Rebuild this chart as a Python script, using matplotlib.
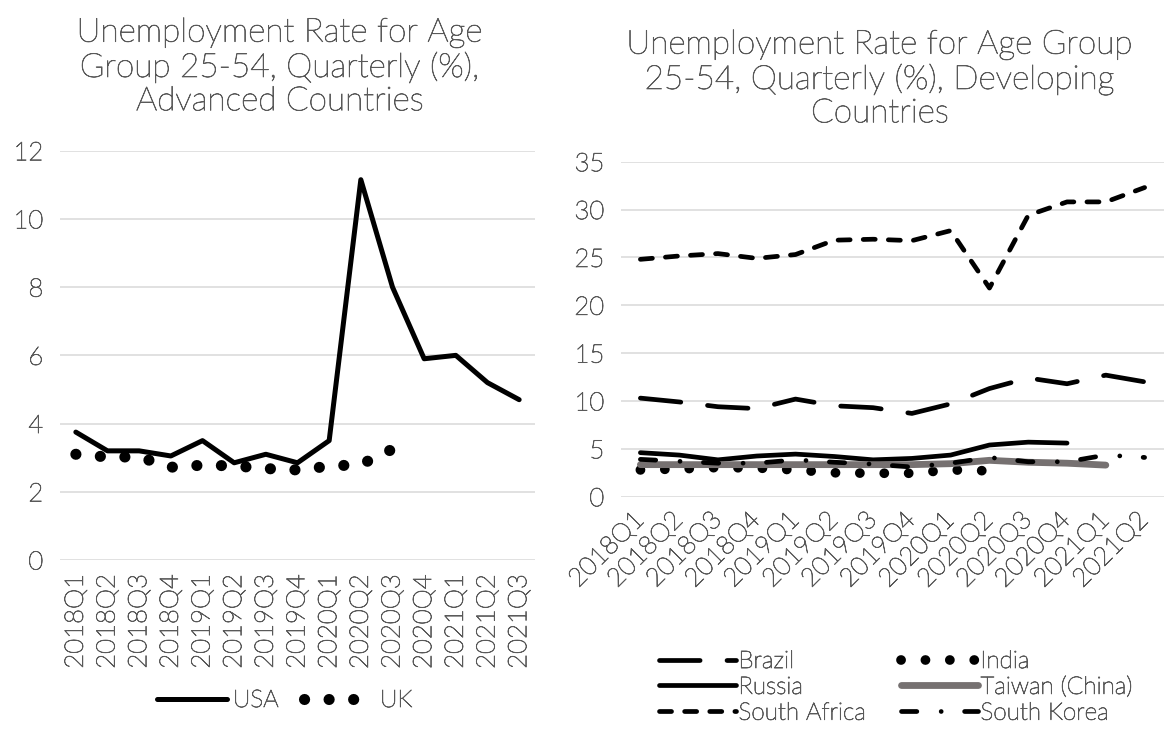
import matplotlib
matplotlib.use("Agg")
import matplotlib.pyplot as plt
import matplotlib.patheffects as pe

# ---- data -------------------------------------------------------------
quarters_adv = ["2018Q1", "2018Q2", "2018Q3", "2018Q4", "2019Q1", "2019Q2",
                "2019Q3", "2019Q4", "2020Q1", "2020Q2", "2020Q3", "2020Q4",
                "2021Q1", "2021Q2", "2021Q3"]
usa = [3.75, 3.2, 3.2, 3.05, 3.5, 2.85, 3.1, 2.85, 3.5, 11.15, 8.0, 5.9, 6.0, 5.2, 4.7]
uk = [3.1, 3.02, 3.02, 2.72, 2.78, 2.76, 2.68, 2.64, 2.75, 2.8, 3.25]

quarters_dev = ["2018Q1", "2018Q2", "2018Q3", "2018Q4", "2019Q1", "2019Q2",
                "2019Q3", "2019Q4", "2020Q1", "2020Q2", "2020Q3", "2020Q4",
                "2021Q1", "2021Q2"]
brazil = [10.3, 9.9, 9.4, 9.2, 10.2, 9.5, 9.3, 8.7, 9.7, 11.3, 12.4, 11.8, 12.7, 12.0]
india = [2.8, 2.9, 3.05, 3.0, 2.8, 2.5, 2.45, 2.45, 2.8, 2.7]
russia = [4.6, 4.35, 3.85, 4.25, 4.45, 4.2, 3.85, 4.0, 4.35, 5.4, 5.7, 5.6]
taiwan = [3.35, 3.35, 3.35, 3.35, 3.35, 3.35, 3.35, 3.35, 3.45, 3.8, 3.6, 3.5, 3.3]
south_africa = [24.8, 25.15, 25.4, 24.9, 25.3, 26.8, 26.9, 26.75, 27.8, 21.8, 29.4, 30.8, 30.8, 32.3]
south_korea = [3.9, 3.7, 3.5, 3.5, 3.85, 3.6, 3.4, 3.1, 3.5, 4.1, 3.65, 3.65, 4.35, 4.1]

# ---- style ------------------------------------------------------------
plt.rcParams["font.family"] = ["Lato", "DejaVu Sans"]
plt.rcParams["font.weight"] = "light"
TEXT = "#595959"
GRID = "#d9d9d9"
TICK_FS = 18.5
TITLE_FS = 24
LEG_FS = 17.5
# a faint outline gives the light face a little more body
THICKEN = [pe.withStroke(linewidth=0.55, foreground=TEXT)]

W, H = 1165, 733
fig = plt.figure(figsize=(W / 100, H / 100), dpi=100)


def px_axes(x0, y0, x1, y1):
    return fig.add_axes([x0 / W, 1 - y1 / H, (x1 - x0) / W, (y1 - y0) / H])


def style_axes(ax):
    for s in ax.spines.values():
        s.set_visible(False)
    ax.grid(axis="y", color=GRID, lw=1.1)
    ax.set_axisbelow(True)
    ax.tick_params(length=0, labelsize=TICK_FS, colors=TEXT)


def thicken_text(ax, leg):
    for t in ax.get_xticklabels() + ax.get_yticklabels() + leg.get_texts():
        t.set_path_effects(THICKEN)


round_kw = dict(solid_capstyle="round", dash_capstyle="round",
                solid_joinstyle="round", dash_joinstyle="round")

# ---- advanced countries ----------------------------------------------
ax1 = px_axes(60, 150.7, 535, 560)
style_axes(ax1)
x_adv = list(range(len(quarters_adv)))
ax1.plot(x_adv, usa, color="black", lw=3.6, label="USA", **round_kw)
ax1.plot(x_adv[:len(uk)], uk, color="black", lw=8.0,
         linestyle=(0, (0.01, 2.2)), label="UK", **round_kw)
ax1.set_xlim(-0.5, len(quarters_adv) - 0.5)
ax1.set_ylim(0, 12)
ax1.set_yticks(range(0, 13, 2))
ax1.set_xticks(x_adv)
ax1.set_xticklabels(quarters_adv, rotation=90, va="top", ha="center")
ax1.tick_params(axis="x", pad=10)
ax1.tick_params(axis="y", pad=12)
leg1 = ax1.legend(loc="upper left", bbox_to_anchor=(157 / W, 1 - 690 / H),
                  bbox_transform=fig.transFigure, ncol=2, frameon=False,
                  borderpad=0, borderaxespad=0,
                  fontsize=LEG_FS, handlelength=2.9, handletextpad=0.22,
                  columnspacing=1.05, labelcolor=TEXT)
thicken_text(ax1, leg1)

fig.text(280 / W, 1 - 67 / H,
         "Unemployment Rate for Age\nGroup 25-54, Quarterly (%),\nAdvanced Countries",
         ha="center", va="center", fontsize=TITLE_FS, color=TEXT,
         linespacing=1.14, path_effects=THICKEN)

# ---- developing countries --------------------------------------------
ax2 = px_axes(621, 161.7, 1164, 496.7)
style_axes(ax2)
x_dev = list(range(len(quarters_dev)))
lw = 3.4
ax2.plot(x_dev[:len(brazil)], brazil, color="black", lw=lw,
         linestyle=(0, (8.6, 5.7)), label="Brazil", **round_kw)
ax2.plot(x_dev[:len(india)], india, color="black", lw=7.0,
         linestyle=(0, (0.01, 2.5)), label="India", **round_kw)
ax2.plot(x_dev[:len(russia)], russia, color="black", lw=lw,
         label="Russia", **round_kw)
ax2.plot(x_dev[:len(taiwan)], taiwan, color="#767171", lw=4.9,
         label="Taiwan (China)", **round_kw)
ax2.plot(x_dev[:len(south_africa)], south_africa, color="black", lw=lw,
         linestyle=(0, (2.55, 2.77)), label="South Africa", **round_kw)
ax2.plot(x_dev[:len(south_korea)], south_korea, color="black", lw=lw,
         linestyle=(0, (3.25, 5.15, 0.01, 4.95)), label="South Korea", **round_kw)
ax2.set_xlim(-0.5, len(quarters_dev) - 0.5)
ax2.set_ylim(0, 35)
ax2.set_yticks(range(0, 36, 5))
ax2.set_xticks(x_dev)
ax2.set_xticklabels(quarters_dev, rotation=45, ha="right", va="center",
                    rotation_mode="anchor")
ax2.tick_params(axis="x", pad=14)
ax2.tick_params(axis="y", pad=12)

handles, labels = ax2.get_legend_handles_labels()
order = ["Brazil", "Russia", "South Africa", "India", "Taiwan (China)", "South Korea"]
hmap = dict(zip(labels, handles))
leg2 = ax2.legend([hmap[k] for k in order], order, loc="upper left",
                  bbox_to_anchor=(659 / W, 1 - 651 / H),
                  bbox_transform=fig.transFigure, ncol=2, frameon=False,
                  borderpad=0, borderaxespad=0,
                  fontsize=LEG_FS, handlelength=3.15, handletextpad=0.12,
                  columnspacing=1.45, labelspacing=0.2, labelcolor=TEXT)
thicken_text(ax2, leg2)

fig.text(880 / W, 1 - 79 / H,
         "Unemployment Rate for Age Group\n25-54, Quarterly (%), Developing\nCountries",
         ha="center", va="center", fontsize=TITLE_FS, color=TEXT,
         linespacing=1.14, path_effects=THICKEN)

fig.savefig("out.png", dpi=100, facecolor="white")
